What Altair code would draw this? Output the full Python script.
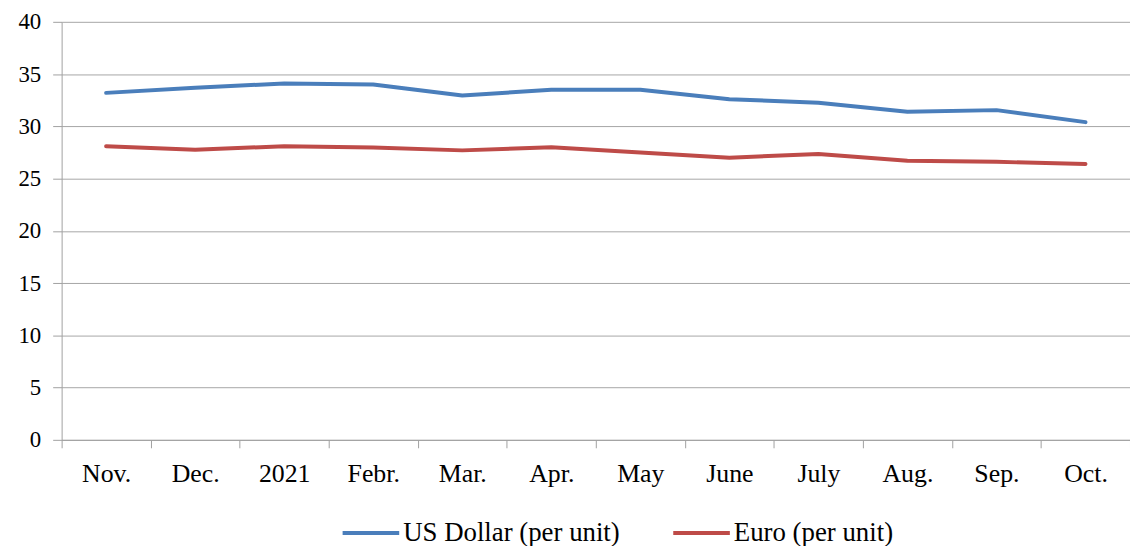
import altair as alt
import pandas as pd

months = ["Nov.", "Dec.", "2021", "Febr.", "Mar.", "Apr.", "May", "June", "July", "Aug.", "Sep.", "Oct."]
usd = [33.2, 33.7, 34.1, 34.0, 32.95, 33.5, 33.5, 32.6, 32.25, 31.4, 31.55, 30.4]
eur = [28.1, 27.75, 28.1, 27.97, 27.7, 28.0, 27.5, 27.0, 27.35, 26.7, 26.6, 26.4]
series_names = ["US Dollar (per unit)", "Euro (per unit)"]
colors = ["#4A7EBB", "#BE4B48"]

rows = []
for name, vals in zip(series_names, [usd, eur]):
    for m, v in zip(months, vals):
        rows.append({"month": m, "value": v, "series": name})
df = pd.DataFrame(rows)

FONT = "Liberation Serif"

chart = alt.Chart(df).mark_line(strokeWidth=4, strokeCap="round", strokeJoin="round").encode(
    x=alt.X("month:N", sort=months, bandPosition=0.5,
            scale=alt.Scale(type="band", paddingInner=0, paddingOuter=0),
            axis=alt.Axis(title=None, tickBand="extent", labelAngle=0, tickSize=8,
                          labelPadding=13, labelFontSize=26,
                          domainColor="#a0a0a0", tickColor="#a0a0a0",
                          grid=False)),
    y=alt.Y("value:Q", scale=alt.Scale(domain=[0, 40], nice=False),
            axis=alt.Axis(title=None, values=list(range(0, 41, 5)), tickSize=9,
                          labelPadding=12, labelFontSize=23,
                          domainColor="#a0a0a0", tickColor="#a0a0a0",
                          gridColor="#a6a6a6", gridWidth=1)),
    color=alt.Color("series:N", sort=series_names,
                    scale=alt.Scale(domain=series_names, range=colors),
                    legend=alt.Legend(title=None, orient="none", direction="horizontal",
                                      legendX=281, legendY=484, symbolType="stroke",
                                      symbolSize=3249, symbolStrokeWidth=4,
                                      labelOffset=2, columnPadding=45, labelLimit=500,
                                      labelFontSize=27, labelFont=FONT, labelColor="#000")),
).properties(
    width=1076, height=421,
    autosize=alt.AutoSizeParams(type="none"),
    padding={"left": 54, "top": 12, "right": 0, "bottom": 105},
).configure_axis(
    labelFont=FONT, labelColor="#000",
).configure_view(stroke=None)

chart.save("out.html", embed_options={"renderer": "svg", "actions": False})
